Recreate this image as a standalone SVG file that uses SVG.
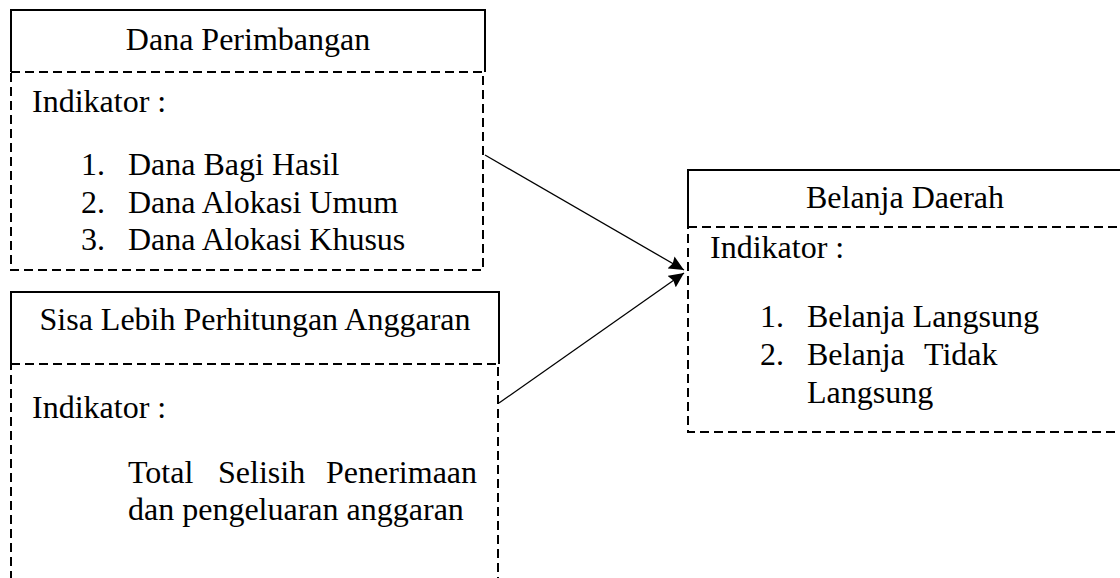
<svg xmlns="http://www.w3.org/2000/svg" width="1120" height="578" viewBox="0 0 1120 578">
<style>
text{font-family:"Liberation Serif","Times New Roman",serif;font-size:32px;fill:#000}
.hd{fill:#fff;stroke:#000;stroke-width:2}
.body{fill:none;stroke:#000;stroke-width:2;stroke-dasharray:9 5}
.conn{stroke:#000;stroke-width:1.3;fill:none}
.mid{text-anchor:middle}
</style>
<defs>
<marker id="ah" markerWidth="16" markerHeight="14" refX="15" refY="7" orient="auto" markerUnits="userSpaceOnUse">
<path d="M0,0 L15,7 L0,14 L2,7 Z" fill="#000"/>
</marker>
</defs>
<rect width="1120" height="578" fill="#fff"/>
<g id="dana-perimbangan">
<path class="hd" d="M11,72 V10 H485 V72"/>
<rect class="body" x="11" y="72" width="472" height="198"/>
<text class="mid" x="248" y="50">Dana Perimbangan</text>
<text x="32" y="112">Indikator :</text>
<text x="81" y="175">1.</text><text x="128" y="175">Dana Bagi Hasil</text>
<text x="81" y="213">2.</text><text x="128" y="213">Dana Alokasi Umum</text>
<text x="81" y="250">3.</text><text x="128" y="250">Dana Alokasi Khusus</text>
</g>
<g id="silpa">
<path class="hd" d="M11,364 V292 H499 V364"/>
<rect class="body" x="11" y="364" width="487" height="230"/>
<text class="mid" x="255" y="330">Sisa Lebih Perhitungan Anggaran</text>
<text x="32" y="418">Indikator :</text>
<text y="483"><tspan x="128">Total</tspan><tspan x="218">Selisih</tspan><tspan x="326">Penerimaan</tspan></text>
<text x="128" y="520">dan pengeluaran anggaran</text>
</g>
<g id="belanja-daerah">
<path class="hd" d="M688,227 V170 H1130 V227"/>
<rect class="body" x="688" y="227" width="440" height="205"/>
<text class="mid" x="905" y="208">Belanja Daerah</text>
<text x="710" y="258">Indikator :</text>
<text x="760" y="327">1.</text><text x="807" y="327">Belanja Langsung</text>
<text x="760" y="365">2.</text><text y="365"><tspan x="807">Belanja</tspan><tspan x="924">Tidak</tspan></text>
<text x="807" y="403">Langsung</text>
</g>
<g id="connectors">
<line class="conn" x1="485" y1="155" x2="684" y2="270" marker-end="url(#ah)"/>
<line class="conn" x1="499" y1="403" x2="684" y2="273" marker-end="url(#ah)"/>
</g>
</svg>
